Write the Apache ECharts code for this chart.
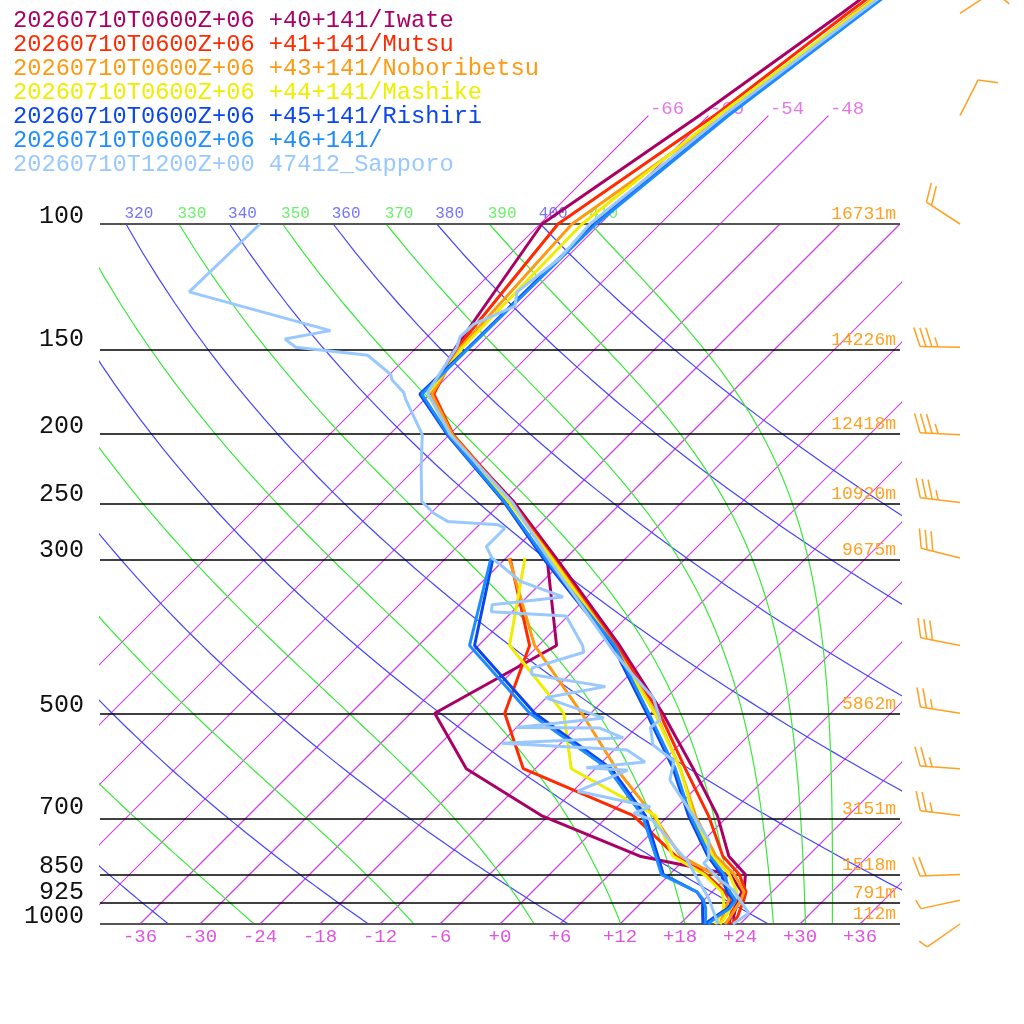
<!DOCTYPE html>
<html>
<head>
<meta charset="utf-8">
<script src="https://cdn.jsdelivr.net/npm/echarts@6/dist/echarts.min.js"></script>
<style>
  html, body { margin: 0; padding: 0; background: #fff; }
  #main { width: 1024px; height: 1024px; }
</style>
</head>
<body>
<div id="main"></div>
<script>
// skew-T / log-p sounding, 7 profiles

var names = [
  '20260710T0600Z+06 +40+141/Iwate',
  '20260710T0600Z+06 +41+141/Mutsu',
  '20260710T0600Z+06 +43+141/Noboribetsu',
  '20260710T0600Z+06 +44+141/Mashike',
  '20260710T0600Z+06 +45+141/Rishiri',
  '20260710T0600Z+06 +46+141/',
  '20260710T1200Z+00 47412_Sapporo'
];
var colors = ['#aa0066', '#ff2a00', '#ff9a10', '#eeee00', '#0a46ee', '#1e8cff', '#99c8ff'];

// model levels (hPa)
var levels = [1000, 975, 950, 925, 900, 850, 800, 700, 600, 500, 400, 300, 250, 200, 175, 150, 100, 70, 50, 30];
var dewLevels = [1000, 975, 950, 925, 900, 850, 800, 700, 600, 500, 400, 300];

var iwateT   = [23.4, 22.6, 22.0, 21.5, 21.2, 19.6, 16.1, 10.9, 3.8, -4.8, -15.9, -31.0, -40.7, -53.8, -60.0, -62.1, -65.8, -60.9, -56.9, -51.5];
var mutsuT   = [23.2, 23.0, 22.5, 22.0, 21.4, 19.0, 15.5, 10.0, 3.0, -5.1, -16.2, -31.3, -40.9, -53.6, -59.6, -61.9, -64.2, -59.4, -56.3, -51.0];
var noboriT  = [22.5, 22.3, 22.0, 21.7, 21.2, 18.5, 14.8, 8.7, 2.5, -5.5, -16.4, -31.4, -41.1, -53.7, -59.8, -61.6, -62.8, -58.4, -55.7, -50.5];
var mashikeT = [22.0, 21.8, 21.5, 21.2, 20.5, 18.0, 14.5, 8.5, 2.5, -5.6, -16.5, -31.5, -41.2, -53.9, -60.2, -61.4, -61.8, -59.0, -55.5, -50.5];
var rishiriT = [20.5, 20.8, 21.2, 21.0, 19.5, 17.2, 14.0, 8.0, 1.8, -6.4, -16.6, -32.3, -41.7, -54.2, -61.0, -60.8, -60.6, -58.3, -55.0, -50.0];
var p46T     = [20.8, 21.0, 21.4, 21.2, 19.8, 17.5, 14.2, 8.2, 2.0, -6.2, -16.4, -32.1, -41.6, -54.1, -60.8, -60.7, -60.4, -58.0, -54.8, -49.8];

var iwateTd   = [22.9, 22.3, 21.7, 21.3, 21.0, 18.1, 7.2, -6.7, -18.9, -27.6, -22.2, -31.9];
var mutsuTd   = [22.8, 22.3, 21.7, 20.6, 19.3, 15.7, 10.8, 2.5, -13.2, -20.6, -24.9, -35.6];
var noboriTd  = [22.0, 21.5, 21.0, 20.5, 19.8, 16.5, 11.3, 4.5, -3.9, -12.9, -24.4, -35.7];
var mashikeTd = [21.5, 21.2, 20.8, 20.0, 19.0, 15.5, 10.5, 4.7, -8.4, -14.7, -26.9, -34.1];
var rishiriTd = [20.3, 19.5, 18.7, 17.9, 16.5, 11.4, 9.0, 3.7, -4.4, -17.6, -30.4, -37.3];
var p46Td     = [20.5, 19.8, 19.0, 18.0, 16.5, 11.2, 8.8, 3.4, -4.7, -18.1, -30.9, -37.5];

// Sapporo observed sounding (significant levels)
var sapTP = [1000, 965, 894, 865, 819, 806, 759, 726, 623, 585, 555, 524, 511, 476, 441, 408, 300, 250, 200, 174, 150, 145, 139, 131, 125, 112, 100, 70, 50, 30];
var sapT  = [23.3, 23.8, 19.9, 17.6, 14.3, 14.3, 12.5, 10.3, 2.6, 1.1, -2.6, -4.6, -4.4, -7.2, -11.6, -15.9, -31.8, -40.9, -53.9, -60.4, -62.0, -62.7, -62.6, -60.3, -61.5, -60.6, -61.0, -58.5, -55.2, -50.0];
var sapTdP = [1000, 919, 856, 810, 800, 710, 695, 680, 646, 603, 598, 587, 564, 552, 542, 525, 524, 508, 475, 458, 440, 431, 409, 400, 363, 358, 350, 341, 324, 300, 289, 272, 269, 266, 259, 249, 223, 200, 178, 174, 167, 164, 154, 150, 146, 142, 125, 100];
var sapTd  = [21.8, 18.3, 14.9, 12.3, 11.5, 4.8, 2.3, 3.3, -5.5, -2.6, -7.0, -1.7, -4.7, -17.9, -6.3, -9.6, -18.0, -10.2, -18.1, -13.2, -21.8, -22.4, -18.8, -19.6, -24.2, -32.1, -32.7, -26.4, -32.2, -37.4, -39.1, -39.1, -40.1, -45.5, -47.7, -50.1, -53.5, -56.7, -61.9, -62.8, -65.2, -65.9, -70.1, -78.1, -80.0, -76.3, -94.3, -94.0];

// pressure lines, heights
var pLines = [100, 150, 200, 250, 300, 500, 700, 850, 925, 1000];
var heights = ['16731m', '14226m', '12418m', '10920m', '9675m', '5862m', '3151m', '1518m', '791m', '112m'];

// winds
var windLevels = [50, 70, 100, 150, 200, 250, 300, 400, 500, 600, 700, 850, 925, 1000];
var windDir = [57, 27, 303, 271, 273, 277, 284, 281, 279, 274, 277, 268, 258, 235];
var windSpd = [10, 10, 20, 35, 35, 35, 30, 30, 25, 25, 25, 20, 5, 5];

// background lines
var isotherms = [];
for (var t = -66; t <= 36; t += 6) isotherms.push(t);
var dryThetas = [240, 260, 280, 300, 320, 340, 360, 380, 400];
var moistThetas = [250, 270, 290, 310, 330, 350, 370, 390, 410];

var MONO = '"Liberation Mono", "Courier New", monospace';
var MAGENTA = '#d23ee6', BLUE = '#4444ff', GREEN = '#3ae83a';

function lp(p) { return Math.log10(p); }
function skewX(t, p) { return t + 70 * (3 - Math.log10(p)); }
function prof(ps, ts) {
  return ps.map(function (p, i) { return [skewX(ts[i], p), lp(p)]; });
}

// Bolton theta-e of saturated air
function satThetaE(tc, p) {
  var e = 6.112 * Math.exp(17.67 * tc / (tc + 243.5));
  if (e > p * 0.5) return 1e9;
  var r = 622 * e / (p - e);
  var tk = tc + 273.15;
  return tk * Math.pow(1000 / p, 0.2854 * (1 - 0.00028 * r)) *
    Math.exp((3.376 / tk - 0.00254) * r * (1 + 0.00081 * r));
}
function moistT(the, p) {
  var lo = -140, hi = 50, mid = 0;
  for (var k = 0; k < 60; k++) {
    mid = (lo + hi) / 2;
    if (satThetaE(mid, p) > the) hi = mid; else lo = mid;
  }
  return mid;
}

function bgLine(pts, col) {
  return {
    type: 'line', silent: true, symbol: 'none', showSymbol: false, z: 1,
    color: col, itemStyle: { color: col },
    data: pts, lineStyle: { color: col, width: 1.2, opacity: 1 },
    emphasis: { disabled: true }
  };
}

var series = [];
var isoLabels = [], thetaLabels = [];

isotherms.forEach(function (t) {
  var top = t <= -48 ? 70 : 100;
  series.push(bgLine([[skewX(t, 1000), 3], [skewX(t, top), lp(top)]], MAGENTA));
  if (t <= -48) isoLabels.push({ value: [skewX(t, top), lp(top)], name: String(t) });
});

dryThetas.forEach(function (th) {
  var pts = [];
  for (var p = 1000; p >= 100; p -= 10) {
    pts.push([skewX(th * Math.pow(p / 1000, 0.2857) - 273.15, p), lp(p)]);
  }
  series.push(bgLine(pts, BLUE));
  if (th >= 320) thetaLabels.push({ value: pts[pts.length - 1], name: String(th), label: { color: '#5050ff' } });
});

moistThetas.forEach(function (th) {
  var pts = [];
  for (var p = 1000; p >= 100; p -= 10) {
    pts.push([skewX(moistT(th, p), p), lp(p)]);
  }
  series.push(bgLine(pts, GREEN));
  if (th >= 330) thetaLabels.push({ value: pts[pts.length - 1], name: String(th), label: { color: '#44ee44' } });
});

// labels on isotherm tops and adiabat tops
series.push({
  type: 'scatter', silent: true, symbolSize: 1, z: 3,
  itemStyle: { color: 'rgba(0,0,0,0)' },
  data: isoLabels,
  label: { show: true, formatter: '{b}', position: [2, -16], color: '#dd55dd',
    fontFamily: MONO, fontSize: 19 }
});
series.push({
  type: 'scatter', silent: true, symbolSize: 1, z: 3,
  itemStyle: { color: 'rgba(0,0,0,0)' },
  data: thetaLabels,
  label: { show: true, formatter: '{b}', position: [-1, -18],
    fontFamily: MONO, fontSize: 16 }
});

// pressure lines + height labels
series.push({
  type: 'line', silent: true, data: [], z: 2,
  markLine: {
    silent: true, symbol: ['none', 'none'], animation: false,
    data: pLines.map(function (p, i) {
      var edge = (p === 100 || p === 1000);
      return {
        yAxis: lp(p),
        lineStyle: { color: edge ? '#555' : '#000', width: edge ? 2 : 1.5, type: 'solid' },
        label: { show: true, position: 'insideEndTop', formatter: heights[i],
          color: '#ffa020', fontFamily: MONO, fontSize: 18, distance: [4, 1] }
      };
    })
  }
});

var modelT = [iwateT, mutsuT, noboriT, mashikeT, rishiriT, p46T];
var modelTd = [iwateTd, mutsuTd, noboriTd, mashikeTd, rishiriTd, p46Td];
for (var s = 0; s < 6; s++) {
  series.push({ name: names[s], type: 'line', symbol: 'none', z: 5, color: colors[s],
    data: prof(levels, modelT[s]), lineStyle: { color: colors[s], width: 3 } });
  series.push({ name: names[s], type: 'line', symbol: 'none', z: 5, color: colors[s],
    data: prof(dewLevels, modelTd[s]), lineStyle: { color: colors[s], width: 3 } });
}
series.push({ name: names[6], type: 'line', symbol: 'none', z: 6, color: colors[6],
  data: prof(sapTP, sapT), lineStyle: { color: colors[6], width: 3 } });
series.push({ name: names[6], type: 'line', symbol: 'none', z: 6, color: colors[6],
  data: prof(sapTdP, sapTd), lineStyle: { color: colors[6], width: 3 } });

// wind barbs to the right of the diagram
series.push({
  type: 'custom', silent: true, clip: false, z: 4,
  data: windLevels.map(function (p, i) { return [40, lp(p), windDir[i], windSpd[i]]; }),
  renderItem: function (params, api) {
    var pt = api.coord([api.value(0), api.value(1)]);
    var bx = pt[0] + 60, by = pt[1];
    var d = api.value(2) * Math.PI / 180, spd = api.value(3);
    var ux = Math.sin(d), uy = -Math.cos(d);
    var tx = bx + 40 * ux, ty = by + 40 * uy;
    var a = 71 * Math.PI / 180;
    var rx = ux * Math.cos(a) - uy * Math.sin(a);
    var ry = ux * Math.sin(a) + uy * Math.cos(a);
    var st = { stroke: '#ffa020', lineWidth: 1.5 };
    var kids = [{ type: 'line', shape: { x1: bx, y1: by, x2: tx, y2: ty }, style: st }];
    var n10 = Math.floor(spd / 10), n5 = (spd % 10) >= 5 ? 1 : 0;
    for (var j = 0; j < n10 + n5; j++) {
      var len = j < n10 ? 20 : 10;
      var sx = tx - j * 6 * ux, sy = ty - j * 6 * uy;
      kids.push({ type: 'line', shape: { x1: sx, y1: sy, x2: sx + len * rx, y2: sy + len * ry }, style: st });
    }
    return { type: 'group', children: kids };
  }
});

// pressure tick labels; 925 sits on its own axis so it is not dropped as overlapping 1000
function pAxis(vals) {
  return {
    type: 'value', inverse: true, min: 2 - 224 / 700, max: 3, position: 'left', offset: 0,
    axisLine: { show: false }, axisTick: { show: false }, splitLine: { show: false },
    axisLabel: {
      customValues: vals.map(lp), margin: 16, color: '#111',
      fontFamily: MONO, fontSize: 25, verticalAlign: 'bottom', lineHeight: 16,
      showMinLabel: true, showMaxLabel: true, hideOverlap: false,
      formatter: function (v) { return String(Math.round(Math.pow(10, v))); }
    }
  };
}

var option = {
  animation: false,
  backgroundColor: '#fff',
  grid: { left: 100, right: 124, top: 0, bottom: 100, containLabel: false },
  legend: {
    orient: 'vertical', left: 3, top: 4, itemGap: 0,
    itemWidth: 0, itemHeight: 24, icon: 'rect', selectedMode: false,
    textStyle: { fontFamily: MONO, fontSize: 23.7, lineHeight: 24 },
    data: names.map(function (n, i) { return { name: n, textStyle: { color: colors[i] } }; })
  },
  xAxis: {
    type: 'value', min: -40, max: 40, interval: 2,
    axisLine: { show: false }, axisTick: { show: false }, splitLine: { show: false },
    axisLabel: {
      interval: 0, margin: 3, color: '#dd55dd', fontFamily: MONO, fontSize: 19,
      formatter: function (v) {
        if (v % 6 !== 0 || Math.abs(v) > 36) return '';
        return v >= 0 ? '+' + v : String(v);
      }
    }
  },
  yAxis: [
    pAxis(pLines.filter(function (p) { return p !== 925; })),
    pAxis([925])
  ],
  series: series
};

var chart = echarts.init(document.getElementById('main'));
chart.setOption(option);
</script>
</body>
</html>
